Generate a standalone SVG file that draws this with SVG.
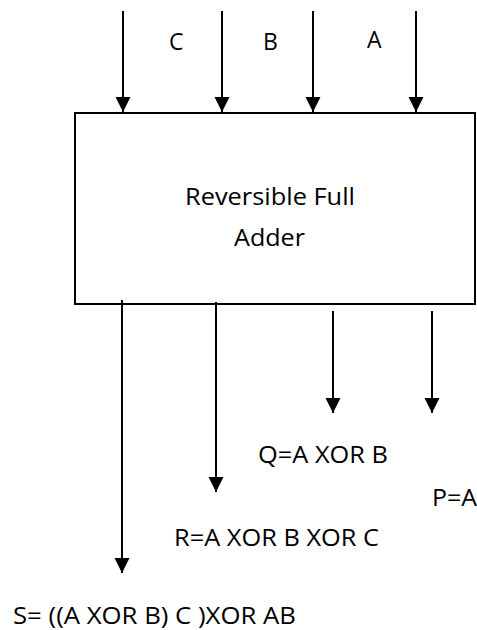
<svg xmlns="http://www.w3.org/2000/svg" width="477" height="630" viewBox="0 0 477 630">
<style>
.ln{stroke:#000;stroke-width:2;fill:none}
.t{font-family:"Open Sans","Liberation Sans",sans-serif;font-size:23px;fill:#000}
</style>
<defs>
<marker id="ah" markerUnits="userSpaceOnUse" markerWidth="16" markerHeight="16" viewBox="0 0 16 16" refX="15" refY="8" orient="auto">
<path d="M0,0.5 L15,8 L0,15.5 Z" fill="#000"/>
</marker>
</defs>
<rect width="477" height="630" fill="#fff"/>
<g id="adder">
<rect x="75" y="113" width="400" height="191" class="ln"/>
<text class="t" x="185" y="205" textLength="170" lengthAdjust="spacingAndGlyphs">Reversible Full</text>
<text class="t" x="234" y="246" textLength="71" lengthAdjust="spacingAndGlyphs">Adder</text>
</g>
<g id="labels">
<text class="t" x="169" y="50">C</text>
<text class="t" x="263" y="50">B</text>
<text class="t" x="367" y="48">A</text>
<text class="t" x="258" y="463" textLength="130" lengthAdjust="spacingAndGlyphs">Q=A XOR B</text>
<text class="t" x="432" y="506" textLength="45" lengthAdjust="spacingAndGlyphs">P=A</text>
<text class="t" x="174" y="546" textLength="205" lengthAdjust="spacingAndGlyphs">R=A XOR B XOR C</text>
<text class="t" x="13" y="624" textLength="283" lengthAdjust="spacingAndGlyphs">S= ((A XOR B) C )XOR AB</text>
</g>
<g id="connectors">
<line class="ln" x1="123" y1="11" x2="123" y2="112" marker-end="url(#ah)"/>
<line class="ln" x1="222" y1="11" x2="222" y2="112" marker-end="url(#ah)"/>
<line class="ln" x1="313" y1="11" x2="313" y2="112" marker-end="url(#ah)"/>
<line class="ln" x1="416" y1="11" x2="416" y2="112" marker-end="url(#ah)"/>
<line class="ln" x1="122" y1="300" x2="122" y2="573" marker-end="url(#ah)"/>
<line class="ln" x1="216" y1="302" x2="216" y2="492" marker-end="url(#ah)"/>
<line class="ln" x1="333" y1="311" x2="333" y2="413" marker-end="url(#ah)"/>
<line class="ln" x1="432" y1="311" x2="432" y2="413" marker-end="url(#ah)"/>
</g>
</svg>
